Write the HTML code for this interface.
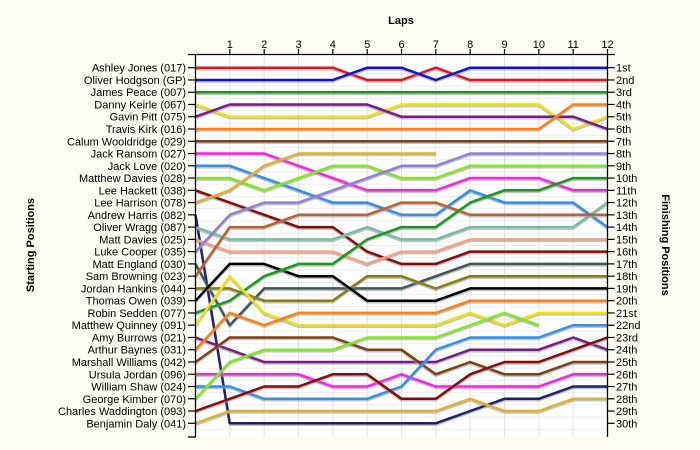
<!DOCTYPE html>
<html><head><meta charset="utf-8"><style>
html,body{margin:0;padding:0;background:#fdfdf4;}
svg{display:block;font-family:"Liberation Sans",sans-serif;}
</style></head><body>
<svg id="chart" width="700" height="450" xmlns="http://www.w3.org/2000/svg">
<rect x="0" y="0" width="700" height="450" fill="#fdfdf4"/>
<rect x="196" y="55" width="411" height="382" fill="#ffffff"/>
<text x="401" y="24" text-anchor="middle" font-size="11" font-weight="bold">Laps</text>
<text transform="translate(34,245) rotate(-90)" text-anchor="middle" font-size="11" font-weight="bold">Starting Positions</text>
<text transform="translate(662,245) rotate(90)" text-anchor="middle" font-size="11" font-weight="bold">Finishing Positions</text>
<g id="grid"></g><g id="series"></g><g id="axes"></g>
</svg>
<script>
const laps = [0,1,2,3,4,5,6,7,8,9,10,11,12];
const drivers = ["Ashley Jones (017)","Oliver Hodgson (GP)","James Peace (007)","Danny Keirle (067)","Gavin Pitt (075)","Travis Kirk (016)","Calum Wooldridge (029)","Jack Ransom (027)","Jack Love (020)","Matthew Davies (028)","Lee Hackett (038)","Lee Harrison (078)","Andrew Harris (082)","Oliver Wragg (087)","Matt Davies (025)","Luke Cooper (035)","Matt England (030)","Sam Browning (023)","Jordan Hankins (044)","Thomas Owen (039)","Robin Sedden (077)","Matthew Quinney (091)","Amy Burrows (021)","Arthur Baynes (031)","Marshall Williams (042)","Ursula Jordan (096)","William Shaw (024)","George Kimber (070)","Charles Waddington (093)","Benjamin Daly (041)"];
const colors = ["#e8141c","#1010d8","#1a9a1a","#f0e010","#7a1a8a","#ff8010","#804010","#ff20e8","#3090f0","#80e820","#8a0a0a","#e0b030","#202070","#70c0a8","#f8a080","#9080d8","#405858","#c06030","#888010","#000000","#1a9a1a","#f0e010","#7a1a8a","#ff8010","#804010","#ff20e8","#3090f0","#80e820","#8a0a0a","#e0b030"];
const pos01 = [1,1,1,1,1,2,2,1,2,2,2,2,2];
const pos02 = [2,2,2,2,2,1,1,2,1,1,1,1,1];
const pos03 = [3,3,3,3,3,3,3,3,3,3,3,3,3];
const pos04 = [4,5,5,5,5,5,4,4,4,4,4,6,5];
const pos05 = [5,4,4,4,4,4,5,5,5,5,5,5,6];
const pos06 = [6,6,6,6,6,6,6,6,6,6,6,4,4];
const pos07 = [7,7,7,7,7,7,7,7,7,7,7,7,7];
const pos08 = [8,8,8,9,10,11,11,11,10,10,10,11,11];
const pos09 = [9,9,10,11,12,12,13,13,11,12,12,12,14];
const pos10 = [10,10,11,10,9,9,10,10,9,9,9,9,9];
const pos11 = [11,12,13,14,14,16,17,17,16,16,16,16,16];
const pos12 = [12,11,9,8,8,8,8,8];
const pos13 = [13,30,30,30,30,30,30,30,29,28,28,27,27];
const pos14 = [14,15,15,15,15,14,15,15,14,14,14,14,12];
const pos15 = [15,16,16,16,16,17,16,16,15,15,15,15,15];
const pos16 = [16,13,12,12,11,10,9,9,8,8,8,8,8];
const pos17 = [17,22,19,19,19,19,19,18,17,17,17,17,17];
const pos18 = [18,14,14,13,13,13,12,12,13,13,13,13,13];
const pos19 = [19,19,20,20,20,18,18,19,18,18,18,18,18];
const pos20 = [20,17,17,18,18,20,20,20,19,19,19,19,19];
const pos21 = [21,20,18,17,17,15,14,14,12,11,11,10,10];
const pos22 = [22,18,21,22,22,22,22,22,21,22,21,21,21];
const pos23 = [23,24,25,25,25,25,25,25,24,24,24,23,24];
const pos24 = [24,21,22,21,21,21,21,21,20,20,20,20,20];
const pos25 = [25,23,23,23,23,24,24,26,25,26,26,25,25];
const pos26 = [26,26,26,26,27,27,26,27,27,27,27,26,26];
const pos27 = [27,27,28,28,28,28,27,24,23,23,23,22,22];
const pos28 = [28,25,24,24,24,23,23,23,22,21,22];
const pos29 = [29,28,27,27,26,26,28,28,26,25,25,24,23];
const pos30 = [30,29,29,29,29,29,29,29,28,29,29,28,28];
const finishLabels = ["1st","2nd","3rd","4th","5th","6th","7th","8th","9th","10th","11th","12th","13th","14th","15th","16th","17th","18th","19th","20th","21st","22nd","23rd","24th","25th","26th","27th","28th","29th","30th"];
const allPos = [pos01,pos02,pos03,pos04,pos05,pos06,pos07,pos08,pos09,pos10,pos11,pos12,pos13,pos14,pos15,pos16,pos17,pos18,pos19,pos20,pos21,pos22,pos23,pos24,pos25,pos26,pos27,pos28,pos29,pos30];

const NS="http://www.w3.org/2000/svg";
const X0=195.5, X1=607.5, Y1=67.7, Y30=423.3;
function xS(l){return X0+(X1-X0)*l/12;}
function yS(p){return Y1+(Y30-Y1)*(p-1)/29;}
function mk(tag,parent,attrs){const e=document.createElementNS(NS,tag);for(const k in attrs)e.setAttribute(k,attrs[k]);parent.appendChild(e);return e;}
const grid=document.getElementById('grid'), series=document.getElementById('series'), axes=document.getElementById('axes');

for(let i=1;i<=30;i++){
  const g=mk('line',grid,{x1:X0,x2:X1,y1:yS(i)+6.1,y2:yS(i)+6.1,stroke:'#eeeeee','stroke-width':1});
  
  
}
laps.forEach(l=>{
  if(l===0)return;
  const g=mk('line',grid,{x1:xS(l),x2:xS(l),y1:55,y2:437,stroke:'#e4e4e4','stroke-width':1});
  
  
});

allPos.forEach((arr,i)=>{
  const pts=arr.map((p,l)=>xS(laps[l]).toFixed(1)+','+yS(p).toFixed(1)).join(' ');
  const sh=mk('polyline',series,{points:pts,fill:'none',stroke:'#999999','stroke-opacity':0.6,'stroke-width':2.5,transform:'translate(0,1.5)','stroke-linejoin':'round'});
  
  
  const ln=mk('polyline',series,{points:pts,fill:'none',stroke:colors[i],'stroke-width':2.5,'stroke-linejoin':'round'});
  
  
});

mk('line',axes,{x1:X0,x2:X0,y1:54.5,y2:437.5,stroke:'#000','stroke-width':1.3});
mk('line',axes,{x1:X1,x2:X1,y1:54.5,y2:437,stroke:'#000','stroke-width':1.3});
mk('line',axes,{x1:188,x2:615,y1:54.5,y2:54.5,stroke:'#000','stroke-width':1.3});
mk('line',axes,{x1:188,x2:X0,y1:437,y2:437,stroke:'#000','stroke-width':1.3});
laps.forEach(l=>{
  if(l===0)return;
  const t=mk('line',axes,{x1:xS(l),x2:xS(l),y1:49,y2:55,stroke:'#000','stroke-width':1.2});
  
  
  const tx=mk('text',axes,{x:xS(l),y:48,'text-anchor':'middle','font-size':11,fill:'#000'});
  tx.textContent=String(l);
  
  
});
drivers.forEach((d,i)=>{
  const y=yS(i+1);
  const t=mk('line',axes,{x1:188,x2:X0,y1:y,y2:y,stroke:'#000','stroke-width':1.2});
  
  
  const tx=mk('text',axes,{x:186,y:y+4,'text-anchor':'end','font-size':11,fill:'#000'});
  tx.textContent=d;
  
  
});
finishLabels.forEach((f,i)=>{
  const y=yS(i+1);
  const t=mk('line',axes,{x1:X1,x2:X1+7,y1:y,y2:y,stroke:'#000','stroke-width':1.2});
  
  
  const tx=mk('text',axes,{x:616,y:y+4,'text-anchor':'start','font-size':11,fill:'#000'});
  tx.textContent=f;
  
  
});
</script>
</body></html>
